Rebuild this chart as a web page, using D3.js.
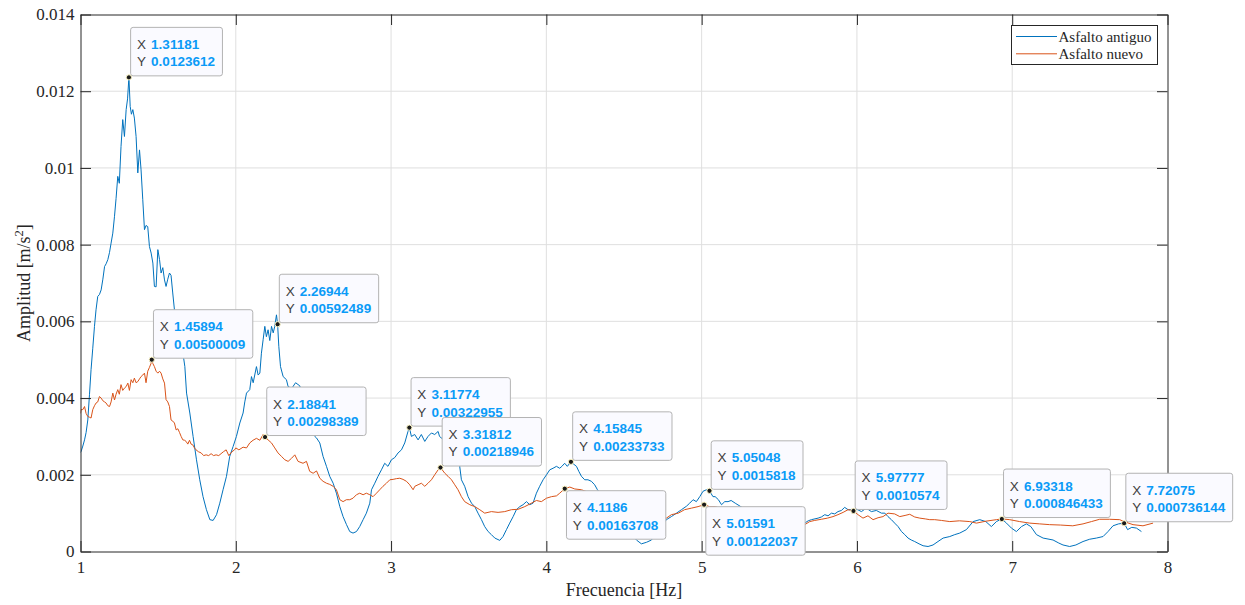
<!DOCTYPE html>
<html>
<head>
<meta charset="utf-8">
<script src="https://cdn.jsdelivr.net/npm/d3@7"></script>
<style>
  body { margin: 0; background: #fff; }
  svg { display: block; }
</style>
</head>
<body>
<div id="chart"></div>
<script>
// [frecuencia Hz, amplitud m/s2]
const antiguo = [
  [1.0,0.00258],[1.004,0.00261],[1.015,0.00275],[1.026,0.00291],[1.036,0.0031],[1.047,0.00343],
  [1.058,0.0041],[1.068,0.00474],[1.079,0.0053],[1.09,0.00587],[1.1,0.0063],[1.111,0.00665],
  [1.122,0.0067],[1.133,0.00682],[1.144,0.0071],[1.155,0.00743],[1.165,0.0075],[1.176,0.00761],
  [1.187,0.0078],[1.197,0.00804],[1.208,0.0083],[1.219,0.00874],[1.229,0.0092],[1.24,0.00978],
  [1.25,0.0096],[1.261,0.01056],[1.272,0.01126],[1.283,0.01082],[1.294,0.01152],[1.303,0.0118],
  [1.3118,0.01236],[1.32,0.0116],[1.328,0.0114],[1.337,0.01152],[1.347,0.0113],[1.358,0.01082],
  [1.369,0.00987],[1.38,0.01047],[1.39,0.00995],[1.401,0.00917],[1.412,0.00839],[1.422,0.0085],
  [1.433,0.00847],[1.444,0.00795],[1.455,0.00778],[1.466,0.00752],[1.476,0.00691],[1.487,0.0069],
  [1.498,0.00787],[1.509,0.00761],[1.519,0.00726],[1.53,0.0074],[1.541,0.00708],[1.551,0.00691],
  [1.562,0.0071],[1.573,0.00726],[1.583,0.0072],[1.594,0.00674],[1.605,0.0063],[1.63,0.0059],
  [1.655,0.0053],[1.672,0.00482],[1.683,0.00413],[1.704,0.00361],[1.725,0.003],[1.747,0.00239],
  [1.768,0.00187],[1.789,0.00143],[1.811,0.00109],[1.833,0.00083],[1.854,0.00081],[1.876,0.00096],
  [1.897,0.00126],[1.918,0.00161],[1.94,0.00196],[1.961,0.00248],[1.983,0.00274],[2.004,0.003],
  [2.026,0.00335],[2.047,0.00361],[2.058,0.0039],[2.069,0.00413],[2.09,0.00422],[2.101,0.00456],
  [2.112,0.0044],[2.133,0.00482],[2.144,0.0046],[2.155,0.00465],[2.165,0.00517],[2.176,0.00552],
  [2.187,0.00587],[2.197,0.0056],[2.208,0.00578],[2.219,0.0055],[2.23,0.00587],[2.241,0.0057],
  [2.251,0.00587],[2.262,0.00617],[2.2694,0.00592],[2.277,0.00535],[2.288,0.00482],[2.305,0.00456],
  [2.326,0.00448],[2.337,0.0043],[2.36,0.00425],[2.385,0.0044],[2.412,0.00432],[2.458,0.00369],
  [2.509,0.003],[2.52,0.00296],[2.541,0.00283],[2.562,0.00248],[2.584,0.00222],[2.605,0.00196],
  [2.627,0.00178],[2.648,0.00152],[2.67,0.00117],[2.691,0.00091],[2.713,0.0007],[2.734,0.00052],
  [2.755,0.00048],[2.777,0.00052],[2.798,0.00065],[2.82,0.00083],[2.841,0.001],[2.863,0.00126],
  [2.874,0.00161],[2.895,0.00178],[2.916,0.00196],[2.938,0.00213],[2.959,0.0023],[2.98,0.00222],
  [3.002,0.00239],[3.024,0.00245],[3.045,0.00257],[3.067,0.00265],[3.088,0.00283],[3.109,0.00313],
  [3.1177,0.00323],[3.131,0.003],[3.152,0.00305],[3.174,0.00291],[3.195,0.00305],[3.217,0.00287],
  [3.238,0.003],[3.26,0.00309],[3.281,0.00305],[3.303,0.00313],[3.312,0.003],[3.378,0.00278],
  [3.42,0.0024],[3.442,0.00222],[3.453,0.00187],[3.474,0.0017],[3.496,0.00143],[3.518,0.00126],
  [3.539,0.00117],[3.56,0.001],[3.582,0.00083],[3.603,0.00065],[3.625,0.00052],[3.646,0.00044],
  [3.668,0.00035],[3.7,0.00029],[3.721,0.00039],[3.743,0.00057],[3.764,0.00074],[3.786,0.00091],
  [3.807,0.00109],[3.829,0.00117],[3.85,0.00122],[3.872,0.0013],[3.893,0.00122],[3.914,0.00126],
  [3.936,0.00152],[3.957,0.0017],[3.979,0.00187],[4.001,0.002],[4.022,0.00213],[4.043,0.00217],
  [4.065,0.00222],[4.086,0.00217],[4.1,0.00222],[4.118,0.0023],[4.135,0.00222],[4.1585,0.00234],
  [4.175,0.00228],[4.194,0.00222],[4.209,0.00209],[4.226,0.00196],[4.247,0.00187],[4.268,0.00187],
  [4.29,0.00183],[4.311,0.00174],[4.329,0.00161],[4.408,0.0012],[4.486,0.00078],[4.55,0.00044],
  [4.58,0.0003],[4.612,0.0002],[4.645,0.00024],[4.677,0.0003],[4.698,0.00044],[4.773,0.00083],
  [4.805,0.00091],[4.838,0.001],[4.87,0.00109],[4.902,0.00118],[4.923,0.00126],[4.945,0.00135],
  [4.966,0.0013],[4.988,0.00143],[5.009,0.00157],[5.031,0.00161],[5.0505,0.00158],[5.073,0.00143],
  [5.087,0.00143],[5.108,0.00135],[5.128,0.00122],[5.149,0.0013],[5.17,0.0013],[5.19,0.00133],
  [5.22,0.00125],[5.3,0.00105],[5.4,0.0009],[5.5,0.0008],[5.6,0.00072],[5.664,0.00074],
  [5.686,0.0008],[5.707,0.00083],[5.75,0.00087],[5.771,0.0009],[5.793,0.00096],[5.814,0.00093],
  [5.836,0.001],[5.857,0.00098],[5.878,0.00104],[5.9,0.00107],[5.921,0.00115],[5.943,0.00109],
  [5.965,0.00109],[6.0,0.0011],[6.029,0.00104],[6.06,0.00113],[6.093,0.00104],[6.125,0.00107],
  [6.158,0.001],[6.18,0.001],[6.2,0.00091],[6.222,0.00083],[6.243,0.00074],[6.265,0.00065],
  [6.287,0.00052],[6.308,0.00044],[6.329,0.00035],[6.35,0.0003],[6.372,0.00026],[6.4,0.0002],
  [6.426,0.00015],[6.458,0.00013],[6.49,0.00017],[6.522,0.00026],[6.555,0.00035],[6.598,0.00039],
  [6.63,0.00044],[6.662,0.00048],[6.705,0.00057],[6.748,0.00078],[6.791,0.00083],[6.83,0.00078],
  [6.866,0.00065],[6.898,0.00078],[6.933,0.00085],[6.963,0.00074],[6.995,0.00061],[7.027,0.00052],
  [7.06,0.00065],[7.091,0.00072],[7.12,0.00065],[7.156,0.00044],[7.199,0.00035],[7.263,0.0003],
  [7.3,0.00022],[7.327,0.00017],[7.37,0.00013],[7.41,0.00017],[7.456,0.00026],[7.499,0.00032],
  [7.542,0.00035],[7.585,0.00039],[7.617,0.00052],[7.649,0.00067],[7.685,0.00072],[7.7208,0.00074],
  [7.743,0.00057],[7.77,0.00063],[7.8,0.00061],[7.832,0.00052]
];

const nuevo = [
  [1.0,0.0036],[1.004,0.0037],[1.015,0.0037],[1.026,0.00378],[1.036,0.0036],[1.047,0.00352],
  [1.058,0.0035],[1.068,0.00348],[1.079,0.0037],[1.09,0.0038],[1.1,0.00387],[1.111,0.0039],
  [1.122,0.00404],[1.133,0.004],[1.144,0.00393],[1.155,0.0039],[1.165,0.00387],[1.176,0.0038],
  [1.187,0.00378],[1.197,0.0039],[1.208,0.00413],[1.219,0.00395],[1.229,0.0041],[1.24,0.00422],
  [1.25,0.0041],[1.261,0.00435],[1.272,0.0042],[1.283,0.00426],[1.294,0.0043],[1.305,0.00439],
  [1.315,0.0042],[1.326,0.00448],[1.337,0.0044],[1.347,0.00452],[1.358,0.0044],[1.369,0.00443],
  [1.38,0.0045],[1.39,0.00456],[1.401,0.0046],[1.412,0.00465],[1.422,0.0044],[1.433,0.0047],
  [1.444,0.0048],[1.455,0.00491],[1.4589,0.005],[1.466,0.0049],[1.476,0.00482],[1.487,0.0047],
  [1.498,0.00465],[1.509,0.0047],[1.519,0.00465],[1.53,0.0045],[1.541,0.00439],[1.551,0.00396],
  [1.562,0.0039],[1.573,0.00378],[1.583,0.00343],[1.594,0.0034],[1.605,0.00335],[1.616,0.00317],
  [1.627,0.0032],[1.638,0.0031],[1.648,0.003],[1.659,0.00291],[1.67,0.0029],[1.68,0.00287],
  [1.691,0.0028],[1.702,0.0029],[1.712,0.0028],[1.723,0.00278],[1.734,0.0027],[1.744,0.00265],
  [1.76,0.0026],[1.777,0.00257],[1.793,0.0025],[1.809,0.00252],[1.825,0.0025],[1.841,0.00255],
  [1.857,0.0025],[1.873,0.00252],[1.89,0.0025],[1.905,0.00255],[1.92,0.0026],[1.938,0.00265],
  [1.955,0.0025],[1.975,0.0026],[1.992,0.00265],[2.0,0.0027],[2.02,0.00265],[2.047,0.00272],
  [2.069,0.0027],[2.09,0.00283],[2.111,0.0029],[2.133,0.00295],[2.155,0.0029],[2.176,0.00305],
  [2.1884,0.00298],[2.208,0.00291],[2.23,0.00283],[2.251,0.0027],[2.272,0.00257],[2.294,0.00248],
  [2.316,0.00239],[2.337,0.00235],[2.359,0.00243],[2.38,0.00252],[2.401,0.00235],[2.433,0.0023],
  [2.455,0.00235],[2.476,0.00209],[2.498,0.00204],[2.52,0.0021],[2.541,0.00191],[2.562,0.00183],
  [2.584,0.00178],[2.605,0.00175],[2.627,0.0017],[2.648,0.00161],[2.67,0.00135],[2.691,0.0013],
  [2.712,0.00135],[2.734,0.00135],[2.755,0.00139],[2.777,0.00148],[2.798,0.00152],[2.82,0.00148],
  [2.841,0.00152],[2.863,0.00148],[2.884,0.00143],[2.906,0.00152],[2.927,0.00161],[2.948,0.0017],
  [2.97,0.00178],[2.992,0.00187],[3.013,0.00188],[3.035,0.0019],[3.056,0.00191],[3.077,0.00188],
  [3.099,0.00183],[3.12,0.00174],[3.142,0.00161],[3.153,0.0017],[3.174,0.00174],[3.195,0.00178],
  [3.217,0.0017],[3.238,0.00178],[3.26,0.00187],[3.281,0.002],[3.303,0.00213],[3.3181,0.00219],
  [3.346,0.00204],[3.367,0.00196],[3.389,0.00187],[3.41,0.00174],[3.431,0.00161],[3.453,0.00143],
  [3.474,0.0013],[3.507,0.00122],[3.539,0.00117],[3.571,0.00109],[3.603,0.001],[3.646,0.00104],
  [3.689,0.00102],[3.732,0.00104],[3.775,0.00109],[3.818,0.0011],[3.861,0.00117],[3.904,0.00126],
  [3.936,0.00133],[3.968,0.0013],[4.001,0.00139],[4.033,0.00143],[4.065,0.00145],[4.086,0.00152],
  [4.1186,0.00164],[4.151,0.00168],[4.183,0.00163],[4.226,0.00161],[4.3,0.0015],[4.4,0.00128],
  [4.5,0.00105],[4.65,0.00085],[4.773,0.00087],[4.805,0.00096],[4.85,0.001],[4.89,0.00109],
  [4.934,0.00113],[4.977,0.00117],[5.0159,0.00122],[5.05,0.00117],[5.089,0.00117],[5.12,0.00112],
  [5.25,0.00105],[5.4,0.00092],[5.55,0.0008],[5.664,0.0007],[5.696,0.00078],[5.728,0.00081],
  [5.771,0.00084],[5.81,0.00087],[5.846,0.00091],[5.878,0.00096],[5.911,0.00102],[5.943,0.00109],
  [5.9778,0.00106],[6.007,0.00096],[6.039,0.00087],[6.071,0.00093],[6.104,0.00083],[6.136,0.00088],
  [6.168,0.00091],[6.2,0.001],[6.243,0.00098],[6.276,0.00091],[6.31,0.00094],[6.34,0.00097],
  [6.372,0.0009],[6.405,0.00087],[6.44,0.00085],[6.469,0.00083],[6.501,0.00083],[6.544,0.00081],
  [6.598,0.00078],[6.66,0.0008],[6.727,0.00078],[6.77,0.00074],[6.83,0.00079],[6.898,0.00083],
  [6.9332,0.00085],[6.984,0.00083],[7.048,0.00078],[7.113,0.00074],[7.177,0.00072],[7.241,0.0007],
  [7.31,0.00069],[7.39,0.00067],[7.456,0.00072],[7.51,0.00078],[7.563,0.00084],[7.627,0.00084],
  [7.692,0.00083],[7.72,0.00078],[7.778,0.0007],[7.842,0.00067],[7.907,0.00074]
];

const seriesNames = ["Asfalto antiguo", "Asfalto nuevo"];
const seriesColors = ["#0072BD", "#D95319"];

const xTicks = [1, 2, 3, 4, 5, 6, 7, 8];
const yTicks = [0, 0.002, 0.004, 0.006, 0.008, 0.01, 0.012, 0.014];
const yTickLabels = ["0", "0.002", "0.004", "0.006", "0.008", "0.01", "0.012", "0.014"];

// data tips, in the order matlab stacks them
const tipX = [1.31181, 1.45894, 2.26944, 2.18841, 3.11774, 3.31812, 4.15845, 4.1186, 5.05048, 5.01591, 5.97777, 6.93318, 7.72075];
const tipY = [0.0123612, 0.00500009, 0.00592489, 0.00298389, 0.00322955, 0.00218946, 0.00233733, 0.00163708, 0.0015818, 0.00122037, 0.0010574, 0.000846433, 0.000736144];
const tipBelow = [false, false, false, false, false, false, false, true, false, true, false, false, false];

const W = 1245, H = 605;
const margin = { top: 14.5, right: 77.5, bottom: 53.5, left: 80.5 };
const axisColor = "#262626";
const serif = '"Liberation Serif", "Times New Roman", serif';
const sans = '"Liberation Sans", Arial, sans-serif';

const x = d3.scaleLinear().domain([1, 8]).range([margin.left, W - margin.right]);
const y = d3.scaleLinear().domain([0, 0.014]).range([H - margin.bottom, margin.top]);

const svg = d3.select("#chart").append("svg")
  .attr("width", W)
  .attr("height", H);

// grid
svg.append("g")
  .selectAll("line")
  .data(xTicks.slice(1, -1))
  .join("line")
  .attr("x1", d => x(d)).attr("x2", d => x(d))
  .attr("y1", y(0)).attr("y2", y(0.014))
  .attr("stroke", "#dfdfdf");

svg.append("g")
  .selectAll("line")
  .data(yTicks.slice(1, -1))
  .join("line")
  .attr("x1", x(1)).attr("x2", x(8))
  .attr("y1", d => y(d)).attr("y2", d => y(d))
  .attr("stroke", "#dfdfdf");

// lines
svg.append("clipPath").attr("id", "plot-clip")
  .append("rect")
  .attr("x", x(1)).attr("y", y(0.014))
  .attr("width", x(8) - x(1)).attr("height", y(0) - y(0.014));

const line = d3.line().x(d => x(d[0])).y(d => y(d[1]));

svg.append("g")
  .attr("clip-path", "url(#plot-clip)")
  .selectAll("path")
  .data([antiguo, nuevo])
  .join("path")
  .attr("d", line)
  .attr("fill", "none")
  .attr("stroke", (d, i) => seriesColors[i])
  .attr("stroke-width", 1)
  .attr("stroke-linejoin", "round");

// axes, ticks point inwards like matlab
const tickLen = -10.5;

const xAxis = svg.append("g")
  .attr("transform", `translate(0,${y(0)})`)
  .style("color", axisColor)
  .call(d3.axisBottom(x).tickValues(xTicks).tickFormat(d3.format("d"))
    .tickSizeInner(tickLen).tickSizeOuter(0).tickPadding(9));

const yAxis = svg.append("g")
  .attr("transform", `translate(${x(1)},0)`)
  .style("color", axisColor)
  .call(d3.axisLeft(y).tickValues(yTicks).tickFormat((d, i) => yTickLabels[i])
    .tickSizeInner(tickLen).tickSizeOuter(0).tickPadding(6));

[xAxis, yAxis].forEach(a => a
  .attr("font-family", serif)
  .attr("font-size", 17)
  .selectAll("text")
  .attr("font-family", serif)
  .attr("font-size", 17)
  .attr("fill", axisColor));

svg.append("g")
  .attr("transform", `translate(0,${y(0.014)})`)
  .style("color", axisColor)
  .call(d3.axisTop(x).tickValues(xTicks).tickFormat("")
    .tickSizeInner(tickLen).tickSizeOuter(0));

svg.append("g")
  .attr("transform", `translate(${x(8)},0)`)
  .style("color", axisColor)
  .call(d3.axisRight(y).tickValues(yTicks).tickFormat("")
    .tickSizeInner(tickLen).tickSizeOuter(0));

// axis titles
svg.append("text")
  .attr("x", (x(1) + x(8)) / 2)
  .attr("y", 596)
  .attr("text-anchor", "middle")
  .attr("font-family", serif)
  .attr("font-size", 18)
  .attr("fill", axisColor)
  .text("Frecuencia [Hz]");

const ylab = svg.append("text")
  .attr("transform", `translate(30,${(y(0) + y(0.014)) / 2}) rotate(-90)`)
  .attr("text-anchor", "middle")
  .attr("font-family", serif)
  .attr("font-size", 18)
  .attr("fill", axisColor);
ylab.append("tspan").text("Amplitud [m/s");
ylab.append("tspan").attr("dy", -7).attr("font-size", 12.5).text("2");
ylab.append("tspan").attr("dy", 7).text("]");

// legend
const legend = svg.append("g").attr("transform", "translate(1011,25)");
legend.append("rect")
  .attr("x", 0.5).attr("y", 0.5)
  .attr("width", 146).attr("height", 39)
  .attr("fill", "#fff")
  .attr("stroke", axisColor)
  .attr("stroke-width", 1);

seriesNames.forEach((name, i) => {
  const ly = 11.5 + i * 17.3;
  legend.append("line")
    .attr("x1", 5).attr("x2", 46)
    .attr("y1", ly).attr("y2", ly)
    .attr("stroke", seriesColors[i])
    .attr("stroke-width", 1);
  legend.append("text")
    .attr("x", 47.5).attr("y", ly + 5)
    .attr("font-family", serif)
    .attr("font-size", 15)
    .attr("fill", axisColor)
    .text(name);
});

// data tips
const tipH = 48.5;
tipX.forEach((tx, i) => {
  const px = x(tx), py = y(tipY[i]);
  const left = px + 1.7;
  const top = tipBelow[i] ? py + 2 : py - 1.5 - tipH;
  const g = svg.append("g");

  const box = g.append("rect")
    .attr("x", left).attr("y", top)
    .attr("height", tipH)
    .attr("rx", 2.5)
    .attr("fill", "#fafaff")
    .attr("stroke", "#b3b3b3")
    .attr("stroke-width", 1);

  const rows = [["X", String(tx)], ["Y", String(tipY[i])]];
  let maxW = 0;
  rows.forEach((r, j) => {
    const base = top + 21.5 + j * 17.4;
    g.append("text")
      .attr("x", left + 6.3).attr("y", base)
      .attr("font-family", sans).attr("font-size", 13.5)
      .attr("fill", "#404040")
      .text(r[0]);
    const v = g.append("text")
      .attr("x", left + 20.5).attr("y", base)
      .attr("font-family", sans).attr("font-size", 13.5)
      .attr("font-weight", "bold")
      .attr("fill", "#0a9bf7")
      .text(r[1]);
    maxW = Math.max(maxW, v.node().getComputedTextLength());
  });
  box.attr("width", maxW + 28);

  g.append("circle")
    .attr("cx", px).attr("cy", py)
    .attr("r", 2.6)
    .attr("fill", "#1a1a1a")
    .attr("stroke", "#fff8c8")
    .attr("stroke-width", 1);
});
</script>
</body>
</html>
